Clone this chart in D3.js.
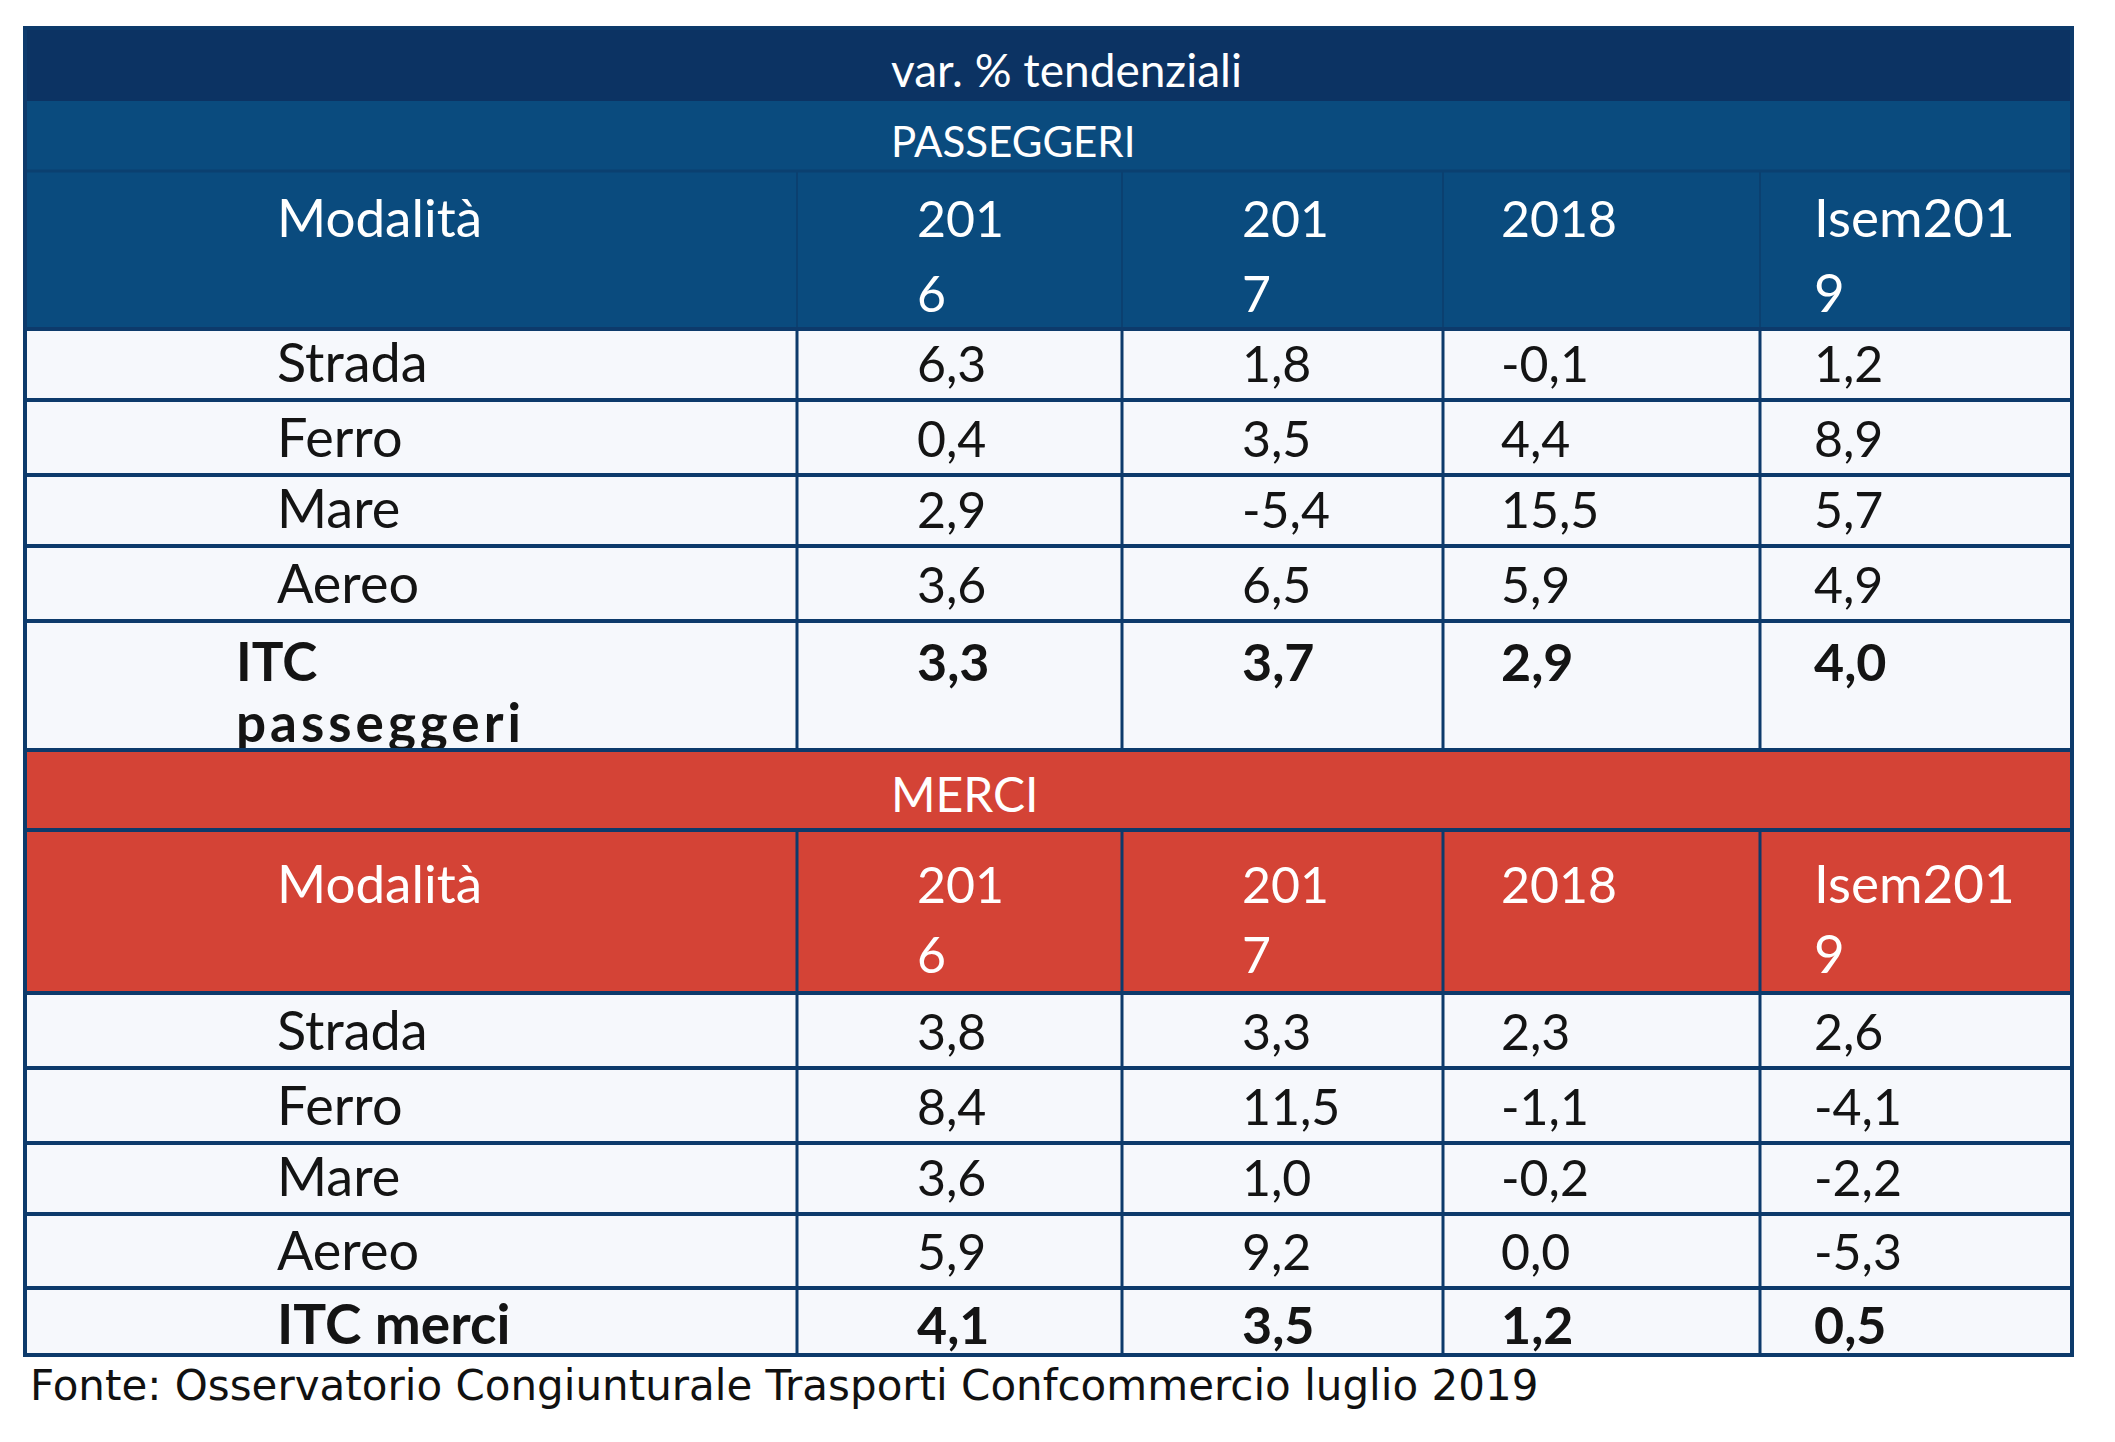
<!DOCTYPE html>
<html>
<head>
<meta charset="utf-8">
<script src="https://cdn.jsdelivr.net/npm/d3@7"></script>
<style>
  html, body { margin: 0; padding: 0; background: #ffffff; }
  svg { display: block; }
</style>
</head>
<body>
<svg id="chart" width="2115" height="1442"></svg>
<script>
// ---------------- DATA ----------------
const title = "var. % tendenziali";
const sectionTitles = ["PASSEGGERI", "MERCI"];
const headerLines = [["Modalità"], ["201", "6"], ["201", "7"], ["2018"], ["Isem201", "9"]];
const modes = ["Strada", "Ferro", "Mare", "Aereo"];
const passeggeriValues = [
  [6.3, 1.8, -0.1, 1.2],
  [0.4, 3.5, 4.4, 8.9],
  [2.9, -5.4, 15.5, 5.7],
  [3.6, 6.5, 5.9, 4.9]
];
const passeggeriTotalLabel = ["ITC", "passeggeri"];
const passeggeriTotal = [3.3, 3.7, 2.9, 4.0];
const merciValues = [
  [3.8, 3.3, 2.3, 2.6],
  [8.4, 11.5, -1.1, -4.1],
  [3.6, 1.0, -0.2, -2.2],
  [5.9, 9.2, 0.0, -5.3]
];
const merciTotalLabel = ["ITC merci"];
const merciTotal = [4.1, 3.5, 1.2, 0.5];
const source = "Fonte: Osservatorio Congiunturale Trasporti Confcommercio luglio 2019";

// ---------------- LAYOUT ----------------
const colEdges = [25, 797, 1122, 1443, 1760, 2072];
const colTextX = [277, 917, 1242, 1501, 1814];
const bandTextX = 891;
const C = {
  title: "#0c3363",
  blue: "#0a4b7e",
  red: "#d44336",
  cell: "#f6f8fc",
  border: "#0d3a6b",
  text: "#141414"
};
const fontMain = "Lato, 'Open Sans', sans-serif";
const fmt = v => d3.format(".1f")(v).replace(".", ",").replace("−", "-");

const svg = d3.select("#chart");
svg.append("rect").attr("width", 2115).attr("height", 1442).attr("fill", "#fff");

const x0 = colEdges[0], x1 = colEdges[colEdges.length - 1];
const gCells = svg.append("g");
const gText = svg.append("g");
const gLines = svg.append("g");

function addText(x, y, t, size, opts) {
  opts = opts || {};
  return gText.append("text").attr("x", x).attr("y", y)
    .attr("font-family", fontMain).attr("font-size", size)
    .attr("font-weight", opts.bold ? 700 : 400)
    .attr("fill", opts.fill || C.text).text(t);
}

const rows = [];
function addSection(sec, band, values, totalLabel, totals, colour, rowEdges, hdr, totalBaselines, totalLabelX) {
  rows.push({type: "band", y0: band.y0, y1: band.y1, fill: colour, text: sectionTitles[sec], base: band.base, size: band.size});
  rows.push({type: "header", y0: hdr.y0, y1: hdr.y1, fill: colour, base: hdr.bases});
  modes.forEach((m, i) => {
    rows.push({type: "data", y0: rowEdges[i], y1: rowEdges[i + 1], fill: C.cell,
      label: m, cells: values[i].map(fmt), base: rowEdges[i + 1] - 18});
  });
  rows.push({type: "total", y0: rowEdges[4], y1: rowEdges[5], fill: C.cell,
    label: totalLabel, cells: totals.map(fmt), base: totalBaselines, labelX: totalLabelX});
}

rows.push({type: "title", y0: 28, y1: 101, fill: C.title, text: title, base: 87, size: 46});
addSection(0, {y0: 101, y1: 171, base: 157, size: 42}, passeggeriValues, passeggeriTotalLabel, passeggeriTotal, C.blue,
  [329, 400, 475, 546, 621, 750], {y0: 171, y1: 329, bases: [237, 312]}, [681, 742], 236);
addSection(1, {y0: 750, y1: 830, base: 812, size: 48}, merciValues, merciTotalLabel, merciTotal, C.red,
  [993, 1068, 1143, 1214, 1288, 1355], {y0: 830, y1: 993, bases: [903, 973]}, [1344], 277);

const LABEL = 54, NUM = 50, BOLDNUM = 52;

rows.forEach(r => {
  gCells.append("rect").attr("x", x0).attr("y", r.y0).attr("width", x1 - x0).attr("height", r.y1 - r.y0).attr("fill", r.fill);
  if (r.type === "title" || r.type === "band") {
    addText(bandTextX, r.base, r.text, r.size, {fill: "#fff"});
  } else if (r.type === "header") {
    headerLines.forEach((lines, ci) => {
      lines.forEach((ln, li) => {
        addText(colTextX[ci], r.base[li], ln, ci === 0 || ci === 4 ? LABEL - 1 : NUM, {fill: "#fff"});
      });
    });
    colEdges.slice(1, -1).forEach(cx => {
      gLines.append("line").attr("x1", cx).attr("x2", cx).attr("y1", r.y0).attr("y2", r.y1)
        .attr("stroke", r.fill === C.red ? C.border : "#0b4070").attr("stroke-width", r.fill === C.red ? 3 : 2);
    });
  } else if (r.type === "data") {
    addText(colTextX[0], r.base, r.label, LABEL);
    r.cells.forEach((t, ci) => addText(colTextX[ci + 1], r.base, t, NUM));
    colEdges.slice(1, -1).forEach(cx => {
      gLines.append("line").attr("x1", cx).attr("x2", cx).attr("y1", r.y0).attr("y2", r.y1)
        .attr("stroke", C.border).attr("stroke-width", 3);
    });
  } else if (r.type === "total") {
    r.label.forEach((ln, li) => {
      const t = addText(r.labelX, r.base[li], ln, r.label.length > 1 ? 53 : 55, {bold: true});
      if (ln === "passeggeri") t.attr("letter-spacing", 4);
    });
    r.cells.forEach((t, ci) => addText(colTextX[ci + 1], r.base[0], t, BOLDNUM, {bold: true}));
    colEdges.slice(1, -1).forEach(cx => {
      gLines.append("line").attr("x1", cx).attr("x2", cx).attr("y1", r.y0).attr("y2", r.y1)
        .attr("stroke", C.border).attr("stroke-width", 3);
    });
  }
});

const hLines = [329, 400, 475, 546, 621, 750, 830, 993, 1068, 1143, 1214, 1288];
hLines.forEach(y => {
  gLines.append("line").attr("x1", x0).attr("x2", x1).attr("y1", y).attr("y2", y)
    .attr("stroke", C.border).attr("stroke-width", 4);
});
gLines.append("line").attr("x1", x0).attr("x2", x1).attr("y1", 171).attr("y2", 171)
  .attr("stroke", "#0b4070").attr("stroke-width", 3);
gLines.append("rect").attr("x", x0).attr("y", 28).attr("width", x1 - x0).attr("height", 1355 - 28)
  .attr("fill", "none").attr("stroke", C.border).attr("stroke-width", 4);

svg.append("text").attr("x", 30).attr("y", 1400)
  .attr("font-family", "'DejaVu Sans', Verdana, sans-serif").attr("font-size", 42)
  .attr("fill", "#111").text(source);
</script>
</body>
</html>
